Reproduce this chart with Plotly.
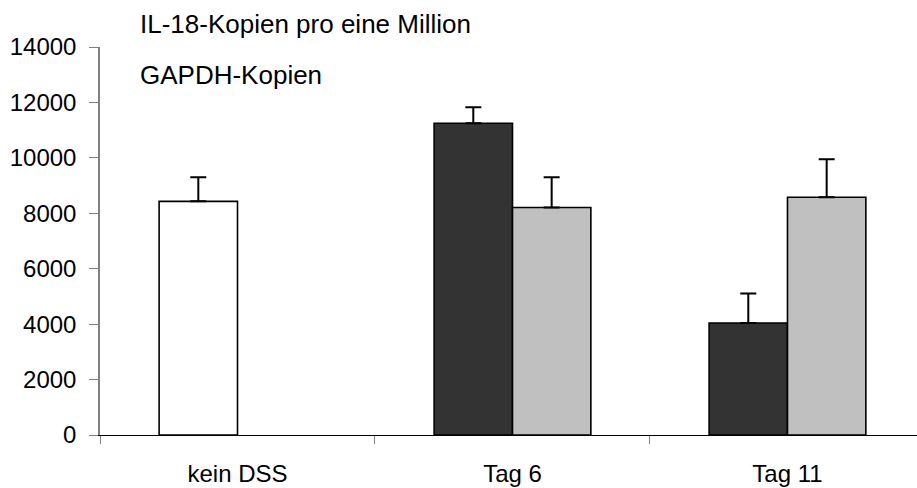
import plotly.graph_objects as go

# Groups on the x axis
categories = ["kein DSS", "Tag 6", "Tag 11"]

# First bar in each group (control bar for "kein DSS", dark bars afterwards)
first_values = [8430, 11250, 4040]
first_errors = [870, 580, 1070]
first_colors = ["#FFFFFF", "#333333", "#333333"]

# Second bar in each group (light grey), none for "kein DSS"
second_values = [None, 8210, 8580]
second_errors = [0, 1090, 1370]
second_color = "#C0C0C0"

y_ticks = [0, 2000, 4000, 6000, 8000, 10000, 12000, 14000]

title_lines = ["IL-18-Kopien pro eine Million", "GAPDH-Kopien"]

FONT = "Liberation Sans, Arial, sans-serif"

fig = go.Figure()

err_style = dict(type="data", symmetric=False, color="#000000", thickness=2, width=8)

fig.add_trace(go.Bar(
    x=categories, y=first_values,
    marker=dict(color=first_colors, line=dict(color="#000000", width=1.6)),
    error_y=dict(array=first_errors, arrayminus=[0, 0, 0], **err_style),
    showlegend=False,
))
fig.add_trace(go.Bar(
    x=categories, y=second_values,
    marker=dict(color=second_color, line=dict(color="#000000", width=1.6)),
    error_y=dict(array=second_errors, arrayminus=[0, 0, 0], **err_style),
    showlegend=False,
))

fig.update_layout(
    width=917, height=488,
    margin=dict(l=100, r=0, t=47, b=53),
    paper_bgcolor="white", plot_bgcolor="white",
    barmode="group", bargap=0.43, bargroupgap=0,
    font=dict(family=FONT, size=24, color="#000000"),
)

fig.update_xaxes(
    type="category", range=[-0.5, 2.471],
    tickson="boundaries", ticks="outside", ticklen=8, tickwidth=1.2, tickcolor="#808080",
    showline=True, linecolor="#000000", linewidth=1.2,
    showgrid=False, zeroline=False,
    tickfont=dict(family=FONT, size=24), ticklabelstandoff=17,
)
fig.update_yaxes(
    range=[0, 14000], tickvals=y_ticks, ticktext=[str(v) for v in y_ticks],
    ticks="outside", ticklen=9, tickwidth=1.2, tickcolor="#808080",
    showline=True, linecolor="#808080", linewidth=1.5,
    showgrid=False, zeroline=False,
    tickfont=dict(family=FONT, size=24), ticklabelstandoff=8,
)

for i, line in enumerate(title_lines):
    fig.add_annotation(
        text=line, xref="paper", yref="paper",
        x=(138 - 100) / 817, xanchor="left",
        y=(435 - 24 - i * 51) / 388, yanchor="middle",
        showarrow=False, font=dict(family=FONT, size=26),
    )

fig.write_html("out.html")
